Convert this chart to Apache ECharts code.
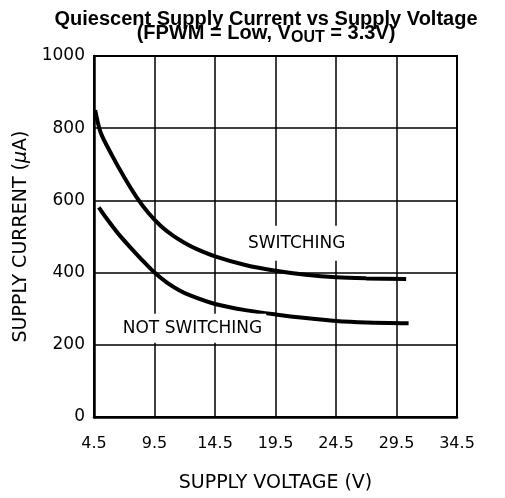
<!DOCTYPE html>
<html>
<head>
<meta charset="utf-8">
<script src="https://cdn.jsdelivr.net/npm/echarts@6/dist/echarts.min.js"></script>
<style>
  html, body { margin: 0; padding: 0; background: #fff; }
  #chart { width: 505px; height: 498px; }
</style>
</head>
<body>
<div id="chart"></div>
<script>
// x axis starts at 4.5 V, ticks every 5 V
const X0 = 4.5
const xTicks = [4.5, 9.5, 14.5, 19.5, 24.5, 29.5, 34.5]

// switching curve
const swVolt = [4.6, 5.05, 6, 7, 8, 9, 10, 11, 12, 13, 14.5, 17, 19.5, 22, 24.5, 27, 30.3]
const swCurr = [850, 788, 724, 664, 610, 565, 530, 503, 482, 465, 445, 421, 405, 394, 387, 384, 382]

// not switching curve
const nsVolt = [4.9, 5.5, 6.5, 7.5, 8.5, 9.5, 10.5, 11.5, 12.5, 14.5, 17, 19.5, 22, 24.5, 27, 30.5]
const nsCurr = [581, 552, 508, 470, 434, 400, 373, 352, 336, 313, 296, 284, 274, 266, 262, 260]

// curve labels
const swLabel = ['SWITCHING', 21.25, 481]
const nsLabel = ['NOT SWITCHING', 12.64, 246]

const toPts = (vs, cs) => vs.map((v, i) => [v - X0, cs[i]])

const font = 'DejaVu Sans'

function curveLabel(lbl, pad) {
  return {
    symbol: 'rect',
    symbolSize: 0,
    silent: true,
    data: [{ coord: [lbl[1] - X0, lbl[2]], value: lbl[0] }],
    label: {
      show: true,
      position: 'inside',
      formatter: lbl[0],
      color: '#000',
      fontFamily: font,
      fontSize: 17,
      backgroundColor: '#fff',
      padding: pad
    }
  }
}

const chart = echarts.init(document.getElementById('chart'))

const option = {
  animation: false,
  backgroundColor: '#fff',
  title: {
    left: 266,
    top: 12,
    padding: 0,
    textAlign: 'center',
    text: '{t|Quiescent Supply Current vs Supply Voltage}\n{t|(FPWM = Low, V}{s|OUT}{t| = 3.3V)}',
    textStyle: {
      rich: {
        t: { fontFamily: 'Liberation Sans', fontWeight: 'bold', fontSize: 20, lineHeight: 14, color: '#000' },
        s: { fontFamily: 'Liberation Sans', fontWeight: 'bold', fontSize: 16, lineHeight: 14, color: '#000', padding: [9, 0, 0, 0] }
      }
    }
  },
  grid: {
    left: 94,
    right: 48,
    top: 56,
    bottom: 78,
    show: true,
    borderColor: '#000',
    borderWidth: 2
  },
  xAxis: {
    type: 'value',
    min: 0,
    max: xTicks[xTicks.length - 1] - X0,
    interval: 5,
    name: 'SUPPLY VOLTAGE (V)',
    nameLocation: 'middle',
    nameGap: 57,
    nameTextStyle: { fontFamily: font, fontSize: 19, color: '#000' },
    axisLine: { lineStyle: { color: '#000', width: 2.5 } },
    axisTick: { show: false },
    axisLabel: {
      margin: 19,
      fontFamily: font,
      fontSize: 16,
      color: '#000',
      formatter: v => (v + X0).toFixed(1)
    },
    splitLine: { show: true, lineStyle: { color: '#000', width: 1.5 } }
  },
  yAxis: {
    type: 'value',
    min: 0,
    max: 1000,
    interval: 200,
    name: 'SUPPLY CURRENT ({m|μ}A)',
    nameLocation: 'middle',
    nameRotate: 90,
    nameGap: 56,
    nameTextStyle: {
      fontFamily: font, fontSize: 19, color: '#000',
      rich: { m: { fontFamily: font, fontSize: 19, fontStyle: 'italic', color: '#000' } }
    },
    axisLine: { show: true, lineStyle: { color: '#000', width: 2.5 } },
    axisTick: { show: false },
    axisLabel: { margin: 9, fontFamily: font, fontSize: 17, color: '#000', formatter: v => String(v) },
    splitLine: { show: true, lineStyle: { color: '#000', width: 1.5 } }
  },
  series: [
    {
      name: 'SWITCHING',
      type: 'line',
      data: toPts(swVolt, swCurr),
      smooth: 0.3,
      showSymbol: false,
      lineStyle: { color: '#000', width: 4 },
      markPoint: curveLabel(swLabel, [9, 4])
    },
    {
      name: 'NOT SWITCHING',
      type: 'line',
      data: toPts(nsVolt, nsCurr),
      smooth: 0.3,
      showSymbol: false,
      lineStyle: { color: '#000', width: 4 },
      markPoint: curveLabel(nsLabel, [6, 4])
    }
  ]
}

chart.setOption(option)
</script>
</body>
</html>
